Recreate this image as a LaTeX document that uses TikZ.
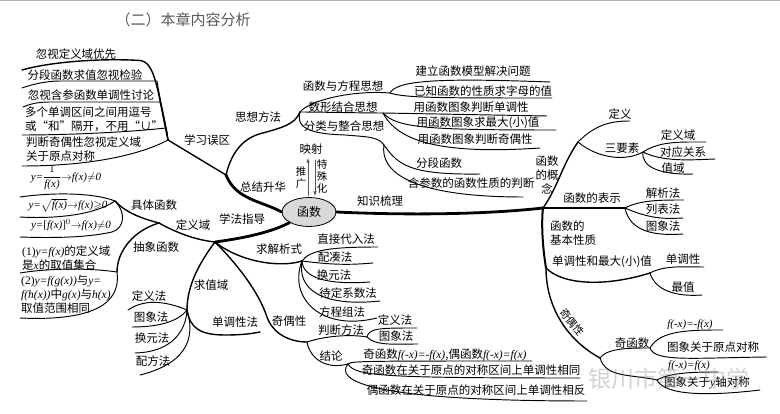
\documentclass[tikz,border=0pt]{standalone}
\usepackage{amsmath,amssymb}
\usepackage{fontspec}
\setmainfont{Noto Sans CJK SC}
\newfontfamily\timesfont{Liberation Serif}
\newcommand{\mf}{\timesfont\itshape}
\usetikzlibrary{shapes.geometric}

\begin{document}
\begin{tikzpicture}[x=1pt, y=-1pt,
    lbl/.style={inner sep=0pt, align=left, font=\fontsize{11.5}{13.8}\selectfont},
    formula/.style={lbl, font=\fontsize{11}{13}\selectfont},
    leaf/.style={line width=0.95pt},
    branch/.style={line width=1.4pt},
    trunk/.style={line width=2.8pt},
    thinarrow/.style={gray!70!black, line width=0.6pt, -latex},
    line cap=round]
    \useasboundingbox (0,0) rectangle (780,414);

    \coordinate (topL) at (0,1);
    \coordinate (topR) at (780,1);
    \draw[gray!60, line width=1pt] (topL) -- (topR);
    \node[lbl, font=\fontsize{15}{18}\selectfont, text=black!65] (title) at (183,20) {（二）本章内容分析};

    % junctions
    \coordinate (jErr) at (168,140);
    \coordinate (jLeft) at (226,175);
    \coordinate (jGuide) at (215,242);
    \coordinate (jDomain) at (159,223);
    \coordinate (jConcrete) at (115,201);
    \coordinate (jAbstract) at (117,272);
    \coordinate (jRange) at (187,310);
    \coordinate (jSolve) at (302,261);
    \coordinate (jParity) at (307,342);
    \coordinate (jJudge) at (367,337);
    \coordinate (jResult) at (348,364);
    \coordinate (jIdea) at (300,112);
    \coordinate (jEq) at (390,93);
    \coordinate (jShape) at (383,113);
    \coordinate (jClass) at (384,145);
    \coordinate (jKnow) at (543,208);
    \coordinate (jConcept) at (578,142);
    \coordinate (jThree) at (643,152);
    \coordinate (jRep) at (625,208);
    \coordinate (jProp) at (546,268);
    \coordinate (jMono) at (650,273);
    \coordinate (jOddEven) at (600,358);
    \coordinate (jOdd) at (650,348);
    \coordinate (jEven) at (657,380);

    % centre
    \node[draw, fill=black!15, line width=0.8pt, ellipse, minimum width=54pt, minimum height=29pt,
        inner sep=0pt, font=\fontsize{12}{14}\selectfont] (hanshu) at (309,212) {函数};
    \draw[trunk] (hanshu.west) .. controls (262,201) and (236,200) .. (jLeft);
    \draw[trunk] (hanshu.south west) .. controls (272,232) and (245,238) .. (jGuide);
    \draw[trunk] (hanshu.east) .. controls (400,215) and (480,215) .. (jKnow);

    % mistakes
    \draw[branch] (jLeft) -- (jErr);
    \coordinate (errA) at (22,70);
    \coordinate (errB) at (22,88);
    \coordinate (errC) at (23,107);
    \coordinate (errD) at (22,135);
    \coordinate (errE) at (22,166);
    \draw[branch] (jErr) .. controls (158,95) and (156,62) .. (140,60.5) .. controls (100,58) and (50,62) .. (errA);
    \draw[leaf] (jErr) .. controls (165,120) and (160,100) .. (157,81) -- (60,81) .. controls (45,81) and (30,85) .. (errB);
    \draw[leaf] (jErr) .. controls (166,125) and (163,112) .. (160,102) -- (50,102) .. controls (38,102) and (30,104) .. (errC);
    \draw[leaf] (jErr) .. controls (167,134) and (167,130) .. (166,128) .. controls (120,133) and (60,135) .. (errD);
    \draw[leaf] (jErr) .. controls (140,155) and (90,166) .. (errE);
    \node[lbl] (errTa) at (76,54) {忽视定义域优先};
    \node[lbl] (errTb) at (85,75) {分段函数求值忽视检验};
    \node[lbl] (errTc) at (91,95) {忽视含参函数单调性讨论};
    \node[lbl, anchor=west] (errTd) at (25,119) {多个单调区间之间用逗号\\或“和”隔开，不用“∪”};
    \node[lbl, anchor=west] (errTe) at (26,149) {判断奇偶性忽视定义域\\关于原点对称};
    \node[lbl] (errT) at (207,140) {学习误区};

    % domain
    \draw[branch] (jGuide) .. controls (195,240) and (175,232) .. (jDomain);
    \draw[branch] (jDomain) .. controls (140,218) and (125,212) .. (jConcrete);
    \coordinate (conA) at (20,197);
    \coordinate (conB) at (20,217);
    \coordinate (conC) at (20,237);
    \draw[leaf] (jConcrete) .. controls (95,193) and (55,192) .. (conA);
    \draw[leaf] (jConcrete) .. controls (95,215) and (55,219) .. (conB);
    \draw[leaf] (jConcrete) .. controls (126,212) and (125,228) .. (112,232) .. controls (85,238) and (50,238) .. (conC);
    \draw[branch] (jDomain) .. controls (135,230) and (117,250) .. (jAbstract);
    \coordinate (absA) at (20,273);
    \coordinate (absB) at (20,318);
    \draw[leaf] (jAbstract) .. controls (90,268) and (50,268) .. (absA);
    \draw[leaf] (jAbstract) .. controls (120,295) and (108,322) .. (absB);
    \node[lbl] (domT) at (193,225) {定义域};
    \node[lbl] (conT) at (154,205) {具体函数};
    \node[lbl] (absT) at (156,247) {抽象函数};
    \node[formula] (conTa) at (66,178) {{\mf y=}$\dfrac{1}{\text{\mf f(x)}}$$\to${\mf f(x)}$\neq${\mf 0}};
    \node[formula] (conTb) at (68,205) {{\mf y=}$\sqrt{\text{\mf f(x)}}$$\to${\mf f(x)}$\geqslant${\mf 0}};
    \node[formula] (conTc) at (71,225) {{\mf y=}{\timesfont [}{\mf f(x)}{\timesfont ]}$^0$$\to${\mf f(x)}$\neq${\mf 0}};
    \node[lbl, anchor=west] (absTa) at (22,258) {{\timesfont (1)}{\mf y=f(x)}的定义域\\是{\mf x}的取值集合};
    \node[lbl, anchor=west] (absTb) at (21,294) {{\timesfont (2)}{\mf y=f(g(x))}与{\mf y=}\\{\mf f(h(x))}中{\mf g(x)}与{\mf h(x)}\\取值范围相同};

    % range
    \draw[branch] (jGuide) .. controls (200,262) and (187,285) .. (jRange);
    \coordinate (ranA) at (128,310);
    \coordinate (ranB) at (132,327);
    \coordinate (ranC) at (135,353);
    \coordinate (ranD) at (140,375);
    \coordinate (ranE) at (260,332);
    \draw[leaf] (jRange) .. controls (170,303) and (147,297) .. (ranA);
    \draw[leaf] (jRange) .. controls (177,323) and (155,327) .. (ranB);
    \draw[leaf] (jRange) .. controls (186,330) and (173,352) .. (ranC);
    \draw[leaf] (jRange) .. controls (194,333) and (192,362) .. (ranD);
    \draw[branch] (jRange) .. controls (190,328) and (200,335) .. (225,335) .. controls (240,335) and (250,334) .. (ranE);
    \node[lbl] (ranT) at (211,285) {求值域};
    \node[lbl] (ranTa) at (149,296) {定义法};
    \node[lbl] (ranTb) at (151,317) {图象法};
    \node[lbl] (ranTc) at (152,338) {换元法};
    \node[lbl] (ranTd) at (153,361) {配方法};
    \node[lbl] (ranTe) at (235,322) {单调性法};

    % analytic form
    \draw[branch] (jGuide) .. controls (240,262) and (280,268) .. (jSolve);
    \coordinate (solA) at (378,247);
    \coordinate (solB) at (373,263);
    \coordinate (solC) at (370,282);
    \coordinate (solD) at (380,301);
    \coordinate (solE) at (377,318);
    \draw[leaf] (jSolve) .. controls (310,250) and (330,247) .. (solA);
    \draw[leaf] (jSolve) .. controls (333,265) and (350,265) .. (solB);
    \draw[leaf] (jSolve) .. controls (303,278) and (327,285) .. (solC);
    \draw[leaf] (jSolve) .. controls (297,290) and (323,307) .. (solD);
    \draw[leaf] (jSolve) .. controls (288,297) and (320,332) .. (solE);
    \node[lbl] (solT) at (279,249) {求解析式};
    \node[lbl] (solTa) at (346,239) {直接代入法};
    \node[lbl] (solTb) at (335,257) {配凑法};
    \node[lbl] (solTc) at (334,275) {换元法};
    \node[lbl] (solTd) at (348,293) {待定系数法};
    \node[lbl] (solTe) at (342,312) {方程组法};

    % parity on the left
    \draw[branch] (jGuide) .. controls (235,262) and (258,290) .. (267,317) .. controls (273,334) and (290,342) .. (jParity);
    \draw[leaf] (jParity) .. controls (325,336) and (350,334) .. (jJudge);
    \coordinate (judA) at (417,328);
    \coordinate (judB) at (418,344);
    \coordinate (resA) at (532,361);
    \coordinate (resB) at (580,378);
    \coordinate (resC) at (587,401);
    \draw[leaf] (jJudge) .. controls (369,328) and (380,328) .. (judA);
    \draw[leaf] (jJudge) .. controls (375,346) and (395,344) .. (judB);
    \draw[leaf] (jParity) .. controls (310,358) and (325,370) .. (jResult);
    \draw[leaf] (jResult) .. controls (352,361) and (360,361) .. (resA);
    \draw[leaf] (jResult) .. controls (355,376) and (380,378) .. (resB);
    \draw[leaf] (jResult) .. controls (335,380) and (365,401) .. (resC);
    \node[lbl] (parT) at (289,321) {奇偶性};
    \node[lbl] (judT) at (341,330) {判断方法};
    \node[lbl] (judTa) at (395,320) {定义法};
    \node[lbl] (judTb) at (396,336) {图象法};
    \node[lbl] (resT) at (331,356) {结论};
    \node[lbl] (resTa) at (445,355) {奇函数{\mf f(-x)=-f(x)},偶函数{\mf f(-x)=f(x)}};
    \node[lbl] (resTb) at (471,370) {奇函数在关于原点的对称区间上单调性相同};
    \node[lbl] (resTc) at (476,390) {偶函数在关于原点的对称区间上单调性相反};
    \node[lbl] (guideT) at (242,219) {学法指导};

    % ideas
    \draw[branch] (jLeft) .. controls (232,150) and (245,137) .. (263,133) .. controls (280,128) and (295,125) .. (jIdea);
    \coordinate (eqA) at (550,82);
    \coordinate (eqB) at (552,98);
    \coordinate (shpA) at (547,116);
    \coordinate (shpB) at (556,130);
    \coordinate (shpC) at (540,148);
    \coordinate (claA) at (480,174);
    \coordinate (claB) at (523,197);
    \draw[leaf] (jIdea) .. controls (310,100) and (353,90) .. (jEq);
    \draw[leaf] (jEq) .. controls (397,80) and (440,78) .. (eqA);
    \draw[leaf] (jEq) .. controls (405,98) and (440,98) .. (eqB);
    \draw[leaf] (jIdea) .. controls (320,112) and (360,113) .. (jShape) -- (shpA);
    \draw[leaf] (jShape) .. controls (397,128) and (427,130) .. (shpB);
    \draw[leaf] (jShape) .. controls (397,140) and (437,155) .. (shpC);
    \draw[leaf] (jIdea) .. controls (295,130) and (315,134) .. (345,135) .. controls (370,137) and (378,137) .. (jClass);
    \draw[leaf] (jClass) .. controls (398,165) and (410,175) .. (claA);
    \draw[leaf] (jClass) .. controls (380,170) and (407,197) .. (claB);
    \node[lbl] (ideaT) at (258,117) {思想方法};
    \node[lbl] (sumT) at (263,187) {总结升华};
    \node[lbl] (eqT) at (343,86) {函数与方程思想};
    \node[lbl] (shpT) at (343,107) {数形结合思想};
    \node[lbl] (claT) at (344,126) {分类与整合思想};
    \node[lbl] (eqTa) at (473,71) {建立函数模型解决问题};
    \node[lbl] (eqTb) at (483,91) {已知函数的性质求字母的值};
    \node[lbl] (shpTa) at (471,107) {用函数图象判断单调性};
    \node[lbl] (shpTb) at (478,123) {用函数图象求最大(小)值};
    \node[lbl] (shpTc) at (475,139) {用函数图象判断奇偶性};
    \node[lbl] (claTa) at (439,163) {分段函数};
    \node[lbl] (claTb) at (471,183) {含参数的函数性质的判断};

    % mapping
    \node[lbl] (mapT) at (311,149) {映射};
    \coordinate (upA) at (308,196);
    \coordinate (upB) at (308,158);
    \coordinate (dnA) at (315,160);
    \coordinate (dnB) at (315,196);
    \draw[thinarrow] (upA) -- (upB);
    \draw[thinarrow] (dnA) -- (dnB);
    \node[lbl, align=center, font=\fontsize{10.5}{12}\selectfont] (upT) at (301,178) {推\\广};
    \node[lbl, align=center, font=\fontsize{10.5}{12}\selectfont] (dnT) at (322,177) {特\\殊\\化};
    \node[lbl] (knowT) at (380,201) {知识梳理};

    % concept
    \draw[branch] (jKnow) .. controls (558,187) and (562,165) .. (jConcept);
    \coordinate (conceptA) at (630,121);
    \coordinate (threeA) at (706,142);
    \coordinate (threeB) at (715,159);
    \coordinate (threeC) at (693,174);
    \draw[leaf] (jConcept) .. controls (595,125) and (610,121) .. (conceptA);
    \draw[leaf] (jConcept) .. controls (597,158) and (625,162) .. (jThree);
    \draw[leaf] (jThree) .. controls (660,141) and (680,142) .. (threeA);
    \draw[leaf] (jThree) .. controls (663,162) and (690,160) .. (threeB);
    \draw[leaf] (jThree) .. controls (641,167) and (660,175) .. (threeC);
    \node[lbl, align=center] (conceptT) at (547,175) {函数\\的概\\念};
    \node[lbl] (conceptTa) at (620,114) {定义};
    \node[lbl] (threeT) at (622,148) {三要素};
    \node[lbl] (threeTa) at (678,135) {定义域};
    \node[lbl] (threeTb) at (683,152) {对应关系};
    \node[lbl] (threeTc) at (673,168) {值域};

    % representation
    \draw[line width=2pt] (jKnow) -- (jRep);
    \coordinate (repA) at (684,200);
    \coordinate (repB) at (683,218);
    \coordinate (repC) at (683,234);
    \draw[leaf] (jRep) .. controls (640,200) and (660,200) .. (repA);
    \draw[leaf] (jRep) .. controls (650,219) and (665,219) .. (repB);
    \draw[leaf] (jRep) .. controls (630,232) and (655,236) .. (repC);
    \node[lbl] (repT) at (592,198) {函数的表示};
    \node[lbl] (repTa) at (663,193) {解析法};
    \node[lbl] (repTb) at (663,209) {列表法};
    \node[lbl] (repTc) at (663,226) {图象法};

    % properties
    \draw[line width=2pt] (jKnow) .. controls (541,225) and (543,250) .. (jProp);
    \coordinate (monoA) at (704,267);
    \coordinate (monoB) at (702,295);
    \draw[branch] (jProp) .. controls (563,285) and (605,287) .. (jMono);
    \draw[leaf] (jMono) .. controls (665,265) and (685,267) .. (monoA);
    \draw[leaf] (jMono) .. controls (655,290) and (675,297) .. (monoB);
    \node[lbl, anchor=west] (propT) at (550,233) {函数的\\基本性质};
    \node[lbl] (monoT) at (602,262) {单调性和最大(小)值};
    \node[lbl] (monoTa) at (683,259) {单调性};
    \node[lbl] (monoTb) at (683,287) {最值};
    \draw[branch] (jProp) .. controls (546,307) and (567,340) .. (jOddEven);
    \node[lbl, rotate=-52, font=\fontsize{10.5}{12}\selectfont] (oeT) at (572,322) {奇偶性};
    \coordinate (oddA) at (723,330);
    \coordinate (oddB) at (767,357);
    \coordinate (evenA) at (718,372);
    \coordinate (evenB) at (760,390);
    \draw[leaf] (jOddEven) .. controls (607,348) and (630,348) .. (jOdd);
    \draw[leaf] (jOdd) .. controls (660,330) and (690,330) .. (oddA);
    \draw[leaf] (jOdd) .. controls (655,362) and (690,358) .. (oddB);
    \node[lbl] (oddT) at (632,343) {奇函数};
    \node[formula] (oddTa) at (690,325) {{\mf f(-x)=-f(x)}};
    \node[lbl] (oddTb) at (713,347) {图象关于原点对称};
    \draw[leaf] (jOddEven) .. controls (606,378) and (630,374) .. (jEven);
    \draw[leaf] (jEven) .. controls (670,372) and (700,372) .. (evenA);
    \draw[leaf] (jEven) .. controls (665,396) and (710,396) .. (evenB);
    \node[formula] (evenTa) at (689,366) {{\mf f(-x)=f(x)}};
    \node[lbl] (evenTb) at (707,383) {图象关于{\mf y}轴对称};

    \node[lbl, font=\fontsize{23}{26}\selectfont, text=gray, opacity=0.35] (mark) at (669,379) {银川市第一中学};
\end{tikzpicture}
\end{document}
